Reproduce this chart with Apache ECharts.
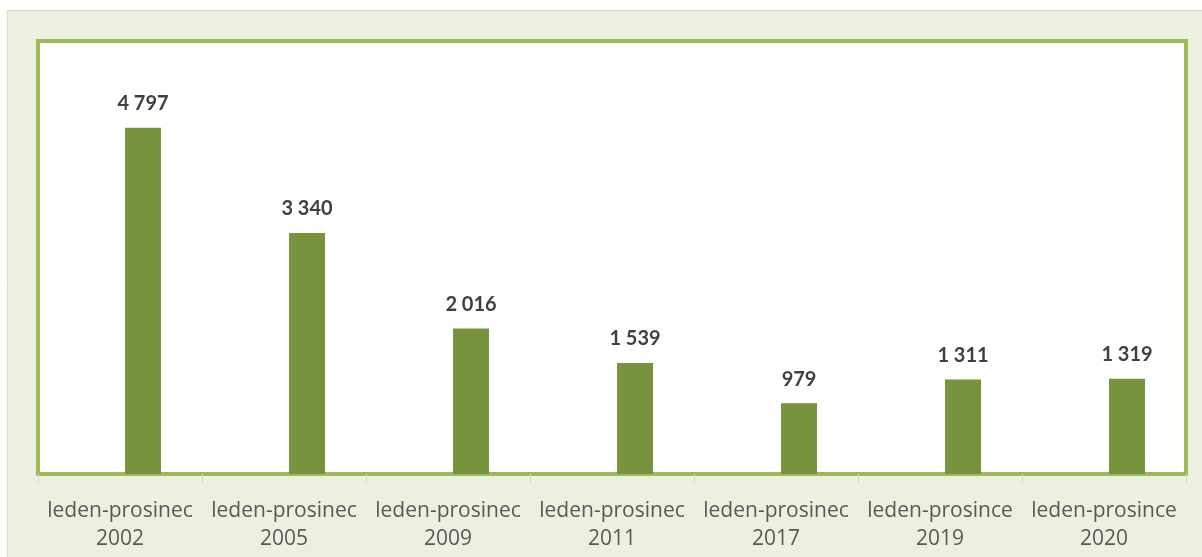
<!DOCTYPE html>
<html>
<head>
<meta charset="utf-8">
<script src="https://cdn.jsdelivr.net/npm/echarts@6/dist/echarts.min.js"></script>
<style>
  html, body { margin: 0; padding: 0; background: #fff; }
  #chart { width: 1202px; height: 557px; }
</style>
</head>
<body>
<div id="chart"></div>
<script>
// období a počty
var periods = ['leden-prosinec', 'leden-prosinec', 'leden-prosinec', 'leden-prosinec', 'leden-prosinec', 'leden-prosince', 'leden-prosince'];
var years = ['2002', '2005', '2009', '2011', '2017', '2019', '2020'];
var values = [4797, 3340, 2016, 1539, 979, 1311, 1319];

var categories = periods.map(function (p, i) { return p + '\n' + years[i]; });
// prázdná řada vlevo (jako v Excelu) posouvá sloupce doprava
var emptySeries = periods.map(function () { return null; });

function fmt(v) {
  // mezera jako oddělovač tisíců
  return String(v).replace(/\B(?=(\d{3})+(?!\d))/g, ' ');
}

var option = {
  animation: false,
  backgroundColor: '#ffffff',
  graphic: [{
    type: 'rect',
    z: -10,
    shape: { x: 7.5, y: 10.5, width: 1200, height: 550 },
    style: { fill: '#EBF1DE', stroke: '#D9D9D9', lineWidth: 1 }
  }],
  grid: {
    left: 38, right: 16, top: 41, bottom: 83,
    show: true,
    backgroundColor: '#ffffff',
    borderColor: '#9BBB59',
    borderWidth: 4
  },
  xAxis: {
    type: 'category',
    data: categories,
    axisLine: { show: true, lineStyle: { color: '#9BBB59', width: 2 } },
    axisTick: { show: true, length: 9, lineStyle: { color: '#D9D9D9' } },
    axisLabel: {
      color: '#595959',
      fontFamily: 'Open Sans',
      fontSize: 21,
      lineHeight: 28,
      margin: 23,
      interval: 0
    }
  },
  yAxis: {
    type: 'value',
    min: 0,
    max: 6000,
    show: false,
    splitLine: { show: false }
  },
  series: [{
    type: 'bar',
    data: emptySeries,
    barWidth: 36,
    barGap: '28%'
  }, {
    type: 'bar',
    data: values,
    barWidth: 36,
    barGap: '28%',
    itemStyle: { color: '#77933C' },
    label: {
      show: true,
      position: 'top',
      distance: 14,
      color: '#404040',
      fontWeight: 'bold',
      fontFamily: 'Lato',
      fontSize: 20,
      formatter: function (p) { return fmt(p.value); }
    }
  }]
};

var myChart = echarts.init(document.getElementById('chart'));
myChart.setOption(option);
</script>
</body>
</html>
